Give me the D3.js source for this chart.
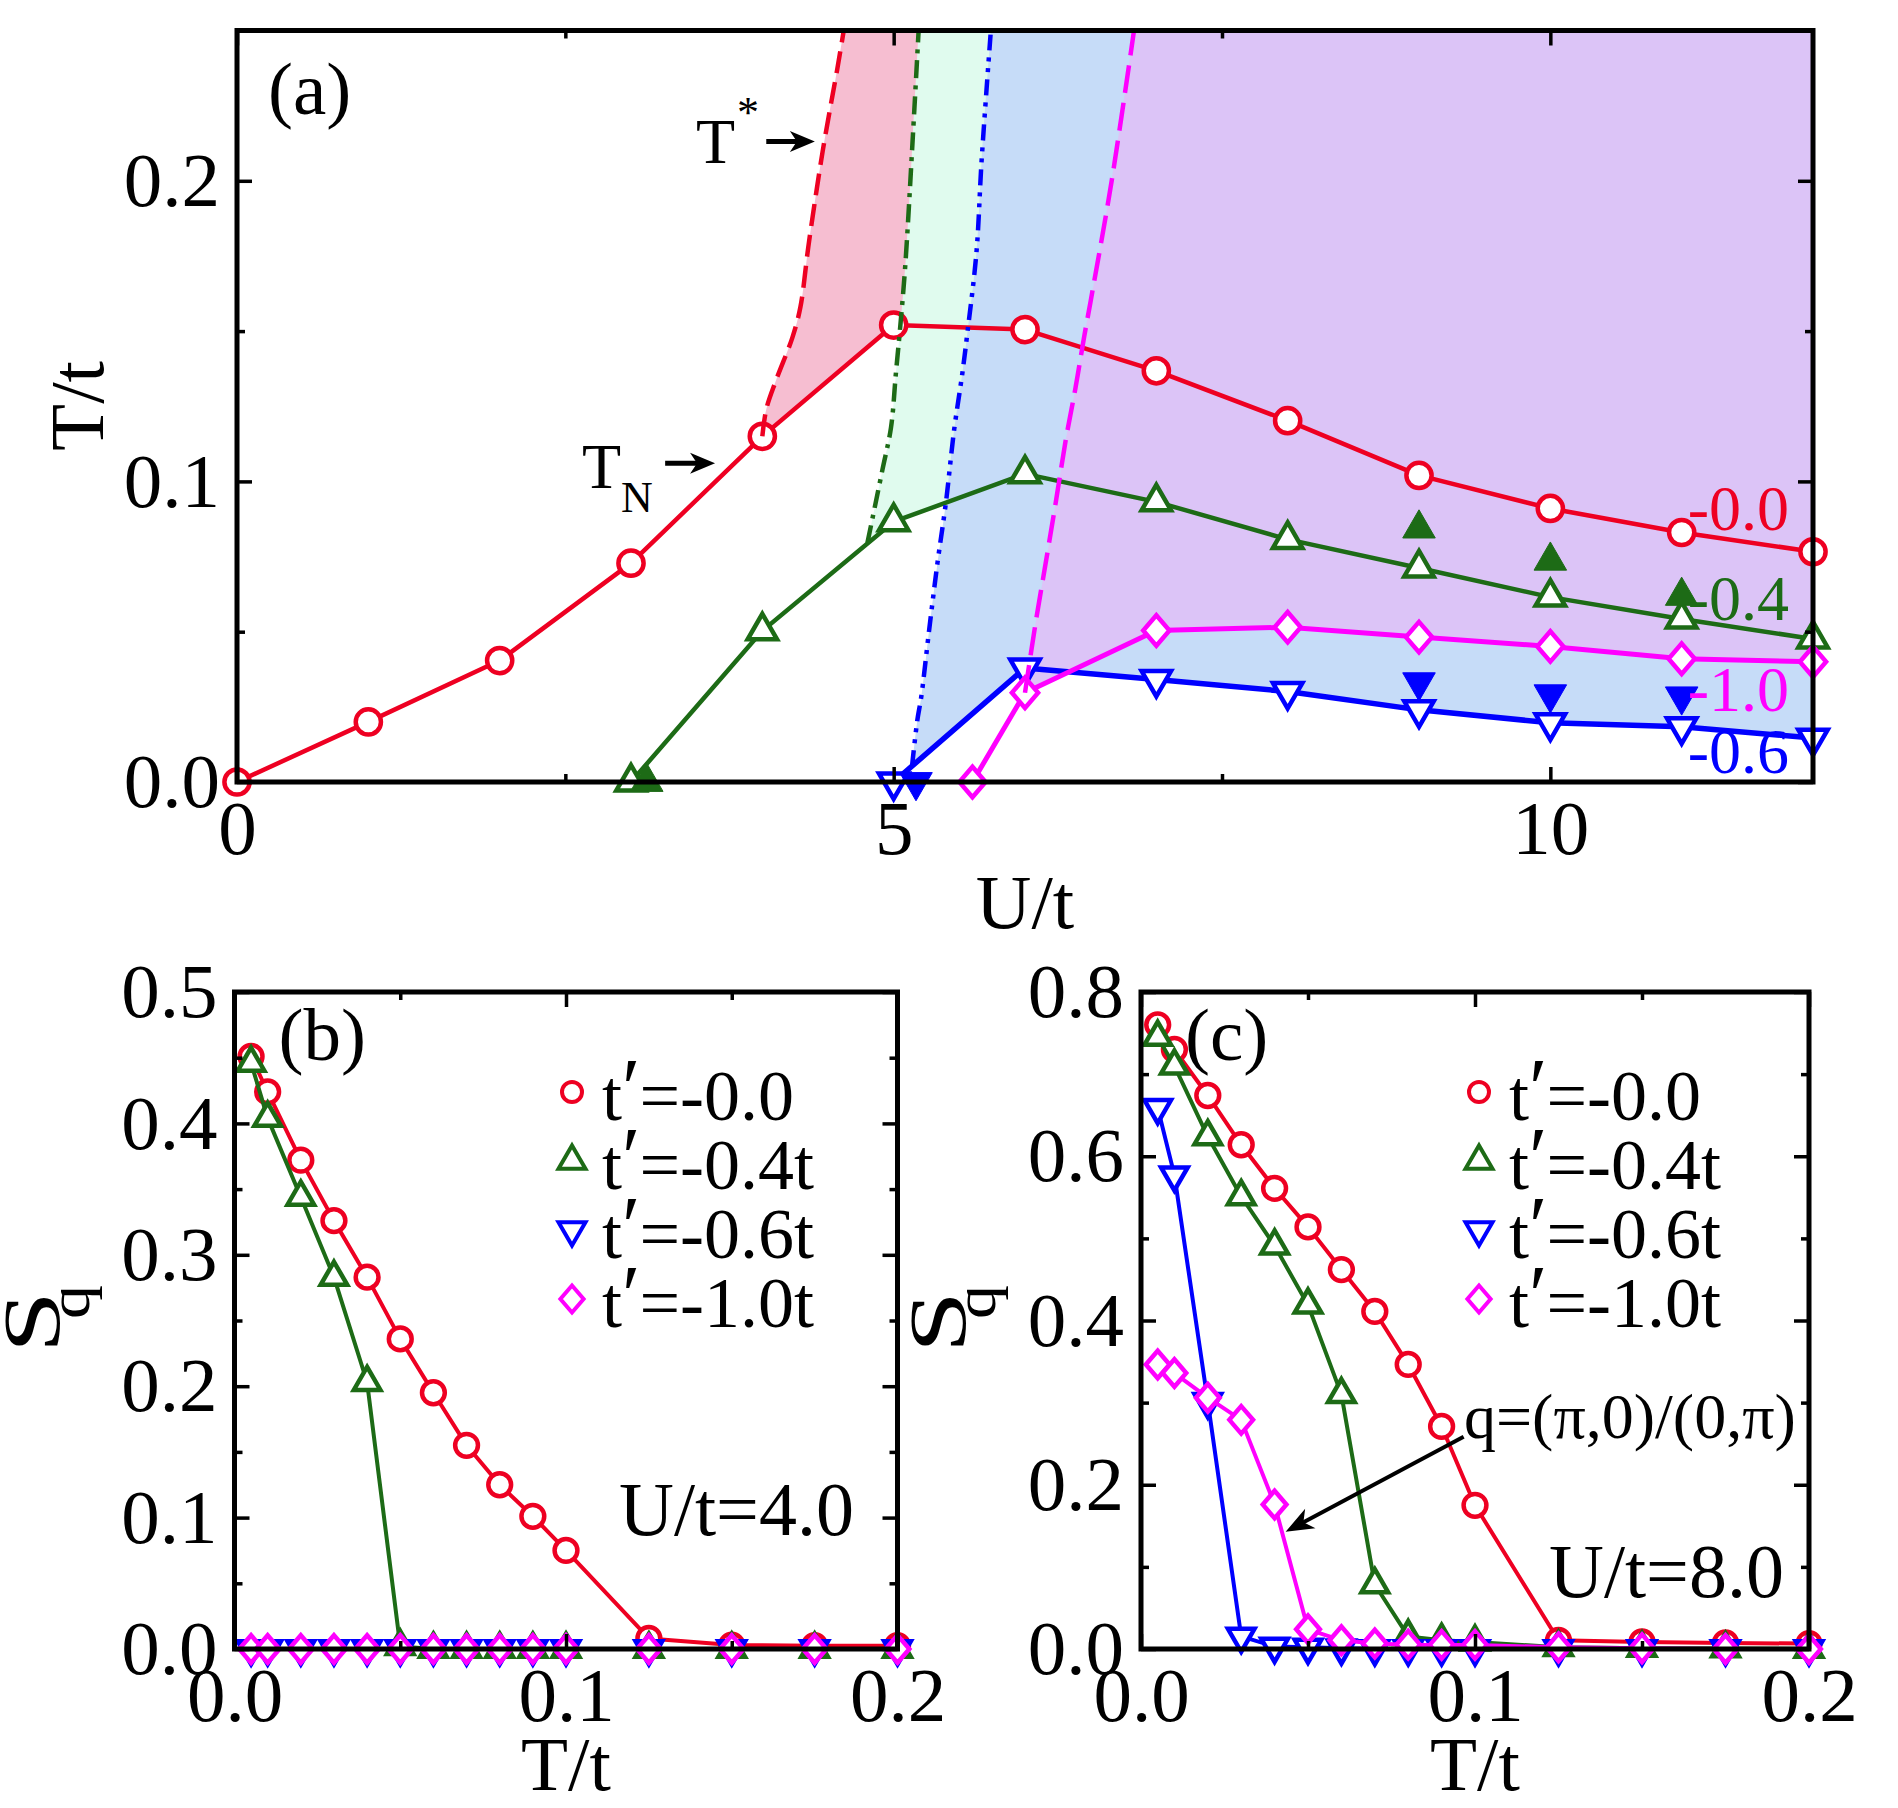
<!DOCTYPE html>
<html lang="en">
<head>
<meta charset="UTF-8">
<title>Phase diagram and structure factor</title>
<style>
  body { margin: 0; background: #fff; }
  svg text { font-family: "Liberation Serif", "Times New Roman", serif; fill: #000; }
</style>
</head>
<body>
<div id="chart"></div>
<script src="https://cdn.jsdelivr.net/npm/d3@7"></script>
<script>
// ---------- panel (a): T/t versus U/t ----------
const uA00 = [0, 1, 2, 3, 4, 5, 6, 7, 8, 9, 10, 11, 12];
const tA00 = [0, 0.020, 0.0404, 0.0728, 0.115, 0.152, 0.1505, 0.1368, 0.1202, 0.102, 0.091, 0.083, 0.0766];
const uA04 = [3, 4, 5, 6, 7, 8, 9, 10, 11, 12];
const tA04 = [0, 0.0503, 0.0866, 0.1025, 0.0932, 0.0807, 0.0712, 0.0615, 0.0542, 0.0476];
const uA04f = [3.12, 9, 10, 11];
const tA04f = [0, 0.0843, 0.0736, 0.0619];
const uA06 = [5, 6, 7, 8, 9, 10, 11, 12];
const tA06 = [0, 0.0379, 0.0341, 0.0301, 0.0240, 0.0197, 0.0184, 0.0146];
const uA06f = [5.17, 9, 10, 11];
const tA06f = [0, 0.0332, 0.0292, 0.0285];
const uA10 = [5.6, 6, 7, 8, 9, 10, 11, 12];
const tA10 = [0, 0.0297, 0.0504, 0.0515, 0.0482, 0.0451, 0.041, 0.040];

// T* crossover curves
const uStar00 = [4.0, 4.03, 4.105, 4.23, 4.29, 4.35, 4.41, 4.46, 4.52, 4.57, 4.62];
const tStar00 = [0.115, 0.124, 0.1337, 0.148, 0.158, 0.178, 0.196, 0.21, 0.225, 0.237, 0.25];
const uStar04 = [4.8, 4.84, 4.915, 4.98, 5.017, 5.045, 5.087, 5.147, 5.19];
const tStar04 = [0.0795, 0.088, 0.104, 0.118, 0.136, 0.149, 0.171, 0.2155, 0.25];
const uStar06 = [5.14, 5.18, 5.21, 5.27, 5.333, 5.397, 5.46, 5.523, 5.561, 5.63, 5.67, 5.74];
const tStar06 = [0.0053, 0.0205, 0.0283, 0.0505, 0.0727, 0.0927, 0.117, 0.136, 0.1493, 0.176, 0.207, 0.25];
const uStar10 = [6.0, 6.08, 6.157, 6.233, 6.31, 6.386, 6.45, 6.5, 6.66, 6.83];
const tStar10 = [0.0297, 0.0527, 0.0727, 0.0927, 0.1137, 0.1315, 0.148, 0.16, 0.2, 0.25];

// ---------- panels (b) and (c): S_q versus T/t ----------
const tGrid = [0.005, 0.01, 0.02, 0.03, 0.04, 0.05, 0.06, 0.07, 0.08, 0.09, 0.1, 0.125, 0.15, 0.175, 0.2];
const sqB00 = [0.451, 0.424, 0.372, 0.326, 0.283, 0.236, 0.195, 0.155, 0.125, 0.101, 0.075, 0.008, 0.003, 0.0025, 0.0025];
const sqB04 = [0.446, 0.404, 0.344, 0.283, 0.203, 0.002, 0, 0, 0, 0, 0, 0, 0, 0, 0];
const sqB06 = [0, 0, 0, 0, 0, 0, 0, 0, 0, 0, 0, 0, 0, 0, 0];
const sqB10 = [0, 0, 0, 0, 0, 0, 0, 0, 0, 0, 0, 0, 0, 0, 0];
const sqC00 = [0.760, 0.730, 0.674, 0.614, 0.561, 0.514, 0.462, 0.411, 0.3465, 0.271, 0.175, 0.0106, 0.0086, 0.0073, 0.0066];
const sqC04 = [0.745, 0.710, 0.624, 0.551, 0.491, 0.419, 0.31, 0.0785, 0.0153, 0.0106, 0.0086, 0.002, 0.001, 0.0005, 0];
const sqC06 = [0.659, 0.577, 0.301, 0.0153, 0.003, 0.002, 0.001, 0, 0, 0, 0, 0, 0, 0, 0];
const sqC10 = [0.3465, 0.336, 0.306, 0.279, 0.176, 0.024, 0.0106, 0.0066, 0.0053, 0.005, 0.005, 0.002, 0.001, 0, 0];

const legendValues = ["-0.0", "-0.4t", "-0.6t", "-1.0t"];
const endLabels = ["-0.0", "-0.4", "-1.0", "-0.6"];

const red = "#ee0022", green = "#1d6b16", blue = "#0000ff", magenta = "#ff00ff";
const fills = ["#f6bed1", "#e0fbee", "#c6dcf8", "#dcc4f7"];

const svg = d3.select("#chart").append("svg")
  .attr("width", 1898)
  .attr("height", 1808);

// scales
const xA = d3.scaleLinear().domain([0, 12]).range([237, 1813]);
const yA = d3.scaleLinear().domain([0, 0.25]).range([782, 30.5]);
const xB = d3.scaleLinear().domain([0, 0.2]).range([234.5, 897.5]);
const yB = d3.scaleLinear().domain([0, 0.5]).range([1649, 992]);
const xC = d3.scaleLinear().domain([0, 0.2]).range([1141, 1809]);
const yC = d3.scaleLinear().domain([0, 0.8]).range([1649, 992]);

// marker shapes centred on (0,0)
function markerPath(kind, a) {
  const h = a * Math.sqrt(3) / 2;
  if (kind === "circle") return d3.symbol(d3.symbolCircle, Math.PI * a * a)();
  if (kind === "up") return `M0,${-2 * h / 3}L${a / 2},${h / 3}L${-a / 2},${h / 3}Z`;
  if (kind === "down") return `M0,${2 * h / 3}L${a / 2},${-h / 3}L${-a / 2},${-h / 3}Z`;
  return `M0,${-a}L${a * 0.86},0L0,${a}L${-a * 0.86},0Z`;
}
const sizeOf = { circle: 12, up: 28, down: 28, diamond: 14.5 };

function series(g, xs, ys, sx, sy, color, kind, lw, drawLine, filled, k) {
  const pts = xs.map((v, i) => [v, ys[i]]);
  if (drawLine) {
    g.append("path")
      .attr("d", d3.line().x(d => sx(d[0])).y(d => sy(d[1]))(pts))
      .attr("fill", "none")
      .attr("stroke", color)
      .attr("stroke-width", lw)
      .attr("stroke-linejoin", "round");
  }
  g.selectAll(null).data(pts).enter().append("path")
    .attr("transform", d => `translate(${sx(d[0])},${sy(d[1])})`)
    .attr("d", markerPath(kind, (filled ? sizeOf[kind] + 3 : sizeOf[kind]) * k))
    .attr("fill", filled ? color : "#fff")
    .attr("stroke", color)
    .attr("stroke-width", filled ? 1 : 4.5);
}

function axes(g, x, y, xMajor, xMinor, yMajor, yMinor, xFmt, yFmt) {
  const [xl, xr] = x.range();
  const [yb, yt] = y.range();
  const style = sel => {
    sel.select(".domain").remove();
    sel.selectAll("line").attr("stroke", "#000").attr("stroke-width", 3.5);
    sel.selectAll("text").attr("font-size", 77)
      .attr("font-family", "'Liberation Serif', 'Times New Roman', serif");
  };
  const defs = [
    [d3.axisBottom(x), `translate(0,${yb})`, xMajor, xMinor, xFmt],
    [d3.axisTop(x), `translate(0,${yt})`, xMajor, xMinor, null],
    [d3.axisLeft(y), `translate(${xl},0)`, yMajor, yMinor, yFmt],
    [d3.axisRight(y), `translate(${xr},0)`, yMajor, yMinor, null]
  ];
  defs.forEach(([ax, tr, major, minor, fmt]) => {
    g.append("g").attr("transform", tr)
      .call(ax.tickValues(major).tickSizeInner(-15).tickSizeOuter(0).tickPadding(17)
        .tickFormat(fmt ? fmt : () => ""))
      .call(style);
    g.append("g").attr("transform", tr)
      .call(ax.tickValues(minor).tickSizeInner(-8).tickFormat(() => ""))
      .call(style);
  });
  g.append("rect")
    .attr("x", xl).attr("y", yt)
    .attr("width", xr - xl).attr("height", yb - yt)
    .attr("fill", "none").attr("stroke", "#000").attr("stroke-width", 5);
}

function arrow(g, x1, y1, x2, y2, len, half, w) {
  const a = Math.atan2(y2 - y1, x2 - x1);
  const c = Math.cos(a), s = Math.sin(a);
  const bx = x2 - len * c, by = y2 - len * s;
  const nx = x2 - len * 0.72 * c, ny = y2 - len * 0.72 * s;
  g.append("line")
    .attr("x1", x1).attr("y1", y1).attr("x2", nx + 2 * c).attr("y2", ny + 2 * s)
    .attr("stroke", "#000").attr("stroke-width", w);
  g.append("path")
    .attr("d", `M${x2},${y2}L${bx - s * half},${by + c * half}L${nx},${ny}L${bx + s * half},${by - c * half}Z`)
    .attr("fill", "#000");
}

// ================= panel (a) =================
const gA = svg.append("g");
svg.append("clipPath").attr("id", "clipA").append("rect")
  .attr("x", xA(0)).attr("y", yA(0.25))
  .attr("width", xA(12) - xA(0)).attr("height", yA(0) - yA(0.25));

const curve = d3.line().x(d => xA(d[0])).y(d => yA(d[1])).curve(d3.curveCatmullRom.alpha(0.5));
const zip = (a, b) => a.map((v, i) => [v, b[i]]);

// each shaded region: right of its T* curve and above its T_N line
const layers = [
  [zip(uStar00, tStar00), zip(uA00, tA00)],
  [zip(uStar04, tStar04), zip(uA04, tA04)],
  [zip(uStar06, tStar06), zip(uA06, tA06)],
  [zip(uStar10, tStar10), zip(uA10, tA10)]
];
const gFill = gA.append("g").attr("clip-path", "url(#clipA)");
layers.forEach(([cur, line], i) => {
  const u0 = cur[0][0];
  const back = line.filter(d => d[0] > u0 + 1e-6).reverse();
  let d = curve(cur);
  d += `L${xA(12.5)},${yA(0.26)}`;
  back.forEach(p => { d += `L${xA(p[0])},${yA(p[1])}`; });
  d += "Z";
  gFill.append("path").attr("d", d).attr("fill", fills[i]);
});

series(gA, uA00, tA00, xA, yA, red, "circle", 4.5, true, false, 1.05);
series(gA, uA04, tA04, xA, yA, green, "up", 4.5, true, false, 1.05);
series(gA, uA04f, tA04f, xA, yA, green, "up", 0, false, true, 1.05);
series(gA, uA06, tA06, xA, yA, blue, "down", 5.5, true, false, 1.05);
series(gA, uA06f, tA06f, xA, yA, blue, "down", 0, false, true, 1.05);
series(gA, uA10, tA10, xA, yA, magenta, "diamond", 5, true, false, 1.05);

const gStar = gA.append("g").attr("clip-path", "url(#clipA)").attr("fill", "none").attr("stroke-width", 4.5);
gStar.append("path").attr("d", curve(zip(uStar00, tStar00))).attr("stroke", red).attr("stroke-dasharray", "22,9");
gStar.append("path").attr("d", curve(zip(uStar04, tStar04))).attr("stroke", green).attr("stroke-dasharray", "18,7,4,7");
gStar.append("path").attr("d", curve(zip(uStar06, tStar06))).attr("stroke", blue).attr("stroke-dasharray", "16,7,4,7,4,7");
gStar.append("path").attr("d", curve(zip(uStar10, tStar10))).attr("stroke", magenta).attr("stroke-dasharray", "28,10");

// annotations
gA.append("text").attr("x", 696).attr("y", 163).attr("font-size", 64).text("T");
gA.append("text").attr("x", 737).attr("y", 127).attr("font-size", 44).text("*");
arrow(gA, xA(4.03), yA(0.2131), xA(4.40), yA(0.2131), 25, 10.5, 5);
gA.append("text").attr("x", 582).attr("y", 488).attr("font-size", 64).text("T");
gA.append("text").attr("x", 621).attr("y", 512).attr("font-size", 44).text("N");
arrow(gA, xA(3.26), yA(0.106), xA(3.64), yA(0.106), 25, 10.5, 5);

const endY = [530, 620, 711, 773];
const endC = [red, green, magenta, blue];
endLabels.forEach((t, i) => {
  gA.append("text").attr("x", 1789).attr("y", endY[i]).attr("text-anchor", "end")
    .attr("font-size", 64).style("fill", endC[i]).text(t);
});
gA.append("text").attr("x", 268).attr("y", 114).attr("font-size", 75).text("(a)");

axes(gA, xA, yA, [0, 5, 10], [2.5, 7.5], [0, 0.1, 0.2], [0.05, 0.15, 0.25],
  d3.format("d"), d3.format(".1f"));
gA.append("text").attr("x", xA(6)).attr("y", 928).attr("text-anchor", "middle").attr("font-size", 77).text("U/t");
gA.append("text").attr("transform", "translate(103,406) rotate(-90)").attr("text-anchor", "middle")
  .attr("font-size", 77).text("T/t");

// ================= panels (b), (c) =================
function sqPanel(x, y, s00, s04, s06, s10, yMajor, yMinor, tag, uLbl, uLblX, uLblY, legX) {
  const g = svg.append("g");
  series(g, tGrid, s00, x, y, red, "circle", 4, true, false, 0.95);
  series(g, tGrid, s04, x, y, green, "up", 4, true, false, 0.95);
  series(g, tGrid, s06, x, y, blue, "down", 4, true, false, 0.95);
  series(g, tGrid, s10, x, y, magenta, "diamond", 4, true, false, 0.95);

  const kinds = ["circle", "up", "down", "diamond"];
  const cols = [red, green, blue, magenta];
  legendValues.forEach((v, i) => {
    const by = 1120 + i * 69;
    g.append("path").attr("transform", `translate(${legX},${by - 28})`)
      .attr("d", markerPath(kinds[i], kinds[i] === "circle" ? 10 : sizeOf[kinds[i]] - 1))
      .attr("fill", "#fff").attr("stroke", cols[i]).attr("stroke-width", 4);
    const t = g.append("text").attr("x", legX + 30).attr("y", by).attr("font-size", 72);
    t.append("tspan").text("t");
    t.append("tspan").attr("font-size", 84).attr("dy", -3).text("\u2032");
    t.append("tspan").attr("dy", 3).attr("dx", -1).text("=" + v);
  });
  g.append("text").attr("x", x.range()[0] + 44).attr("y", 1060).attr("font-size", 75).text(tag);
  g.append("text").attr("x", uLblX).attr("y", uLblY).attr("font-size", 76).text(uLbl);

  axes(g, x, y, [0, 0.1, 0.2], [0.05, 0.15], yMajor, yMinor, d3.format(".1f"), d3.format(".1f"));
  g.append("text").attr("x", x(0.1)).attr("y", 1790).attr("text-anchor", "middle").attr("font-size", 77).text("T/t");
  const x0 = x.range()[0];
  g.append("text").attr("transform", `translate(${x0 - 176},1322) rotate(-90)`)
    .attr("text-anchor", "middle").attr("font-size", 80)
    .attr("textLength", 62).attr("lengthAdjust", "spacingAndGlyphs").text("S");
  g.append("text").attr("transform", `translate(${x0 - 146},1302) rotate(-90)`)
    .attr("text-anchor", "middle").attr("font-size", 59)
    .attr("textLength", 34).attr("lengthAdjust", "spacingAndGlyphs").text("q");
  return g;
}

sqPanel(xB, yB, sqB00, sqB04, sqB06, sqB10,
  [0, 0.1, 0.2, 0.3, 0.4, 0.5], [0.05, 0.15, 0.25, 0.35, 0.45], "(b)", "U/t=4.0", 619, 1535, 572);
const gC = sqPanel(xC, yC, sqC00, sqC04, sqC06, sqC10,
  [0, 0.2, 0.4, 0.6, 0.8], [0.1, 0.3, 0.5, 0.7], "(c)", "U/t=8.0", 1549, 1597, 1479);
gC.append("text").attr("x", 1464).attr("y", 1438).attr("font-size", 64).text("q=(\u03c0,0)/(0,\u03c0)");
arrow(gC, xC(0.0966), yC(0.2585), xC(0.0433), yC(0.1428), 28, 11, 4);
</script>
</body>
</html>
